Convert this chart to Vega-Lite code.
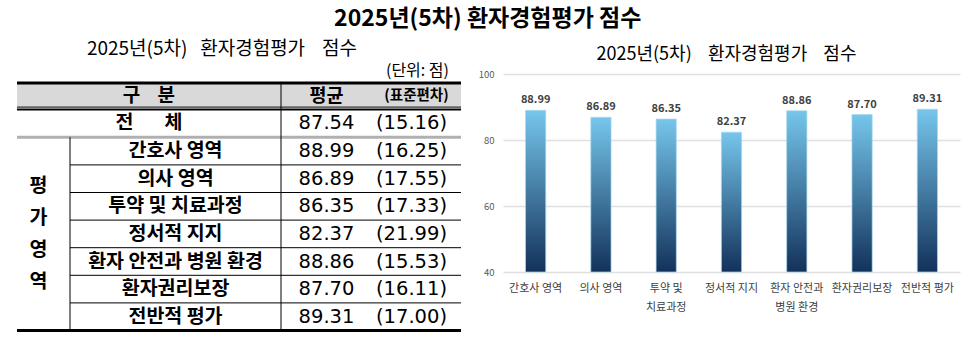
{
  "$schema": "https://vega.github.io/schema/vega-lite/v6.json",
  "background": "white",
  "padding": {"left": 15, "top": 8, "right": 5, "bottom": 5},
  "title": {"text": "2025년(5차) 환자경험평가 점수", "font": "Noto Sans CJK KR", "fontSize": 23, "fontWeight": "bold", "color": "#000000", "anchor": "middle", "offset": 9},
  "config": {"view": {"stroke": null}, "font": "Noto Sans CJK KR"},
  "datasets": {
    "items": [
      {"구분": "전체", "순서": 1, "평균": 87.54, "표준편차": 15.16},
      {"구분": "간호사 영역", "순서": 2, "평균": 88.99, "표준편차": 16.25},
      {"구분": "의사 영역", "순서": 3, "평균": 86.89, "표준편차": 17.55},
      {"구분": "투약 및 치료과정", "순서": 4, "평균": 86.35, "표준편차": 17.33},
      {"구분": "정서적 지지", "순서": 5, "평균": 82.37, "표준편차": 21.99},
      {"구분": "환자 안전과 병원 환경", "순서": 6, "평균": 88.86, "표준편차": 15.53},
      {"구분": "환자권리보장", "순서": 7, "평균": 87.70, "표준편차": 16.11},
      {"구분": "전반적 평가", "순서": 8, "평균": 89.31, "표준편차": 17.00}
    ]
  },
  "bounds": "flush",
  "spacing": 42,
  "hconcat": [
    {
      "width": 444,
      "height": 258,
      "title": {"text": "2025년(5차)\u00a0\u00a0\u00a0환자경험평가\u00a0\u00a0\u00a0\u00a0점수", "font": "Noto Sans CJK KR", "fontSize": 19, "fontWeight": "normal", "color": "#000000", "anchor": "middle", "dx": -17, "offset": 4},
      "layer": [
        {
          "data": {"values": [{}]},
          "mark": {"type": "rect", "fill": "#D9D9D9"},
          "encoding": {
            "x": {"datum": 0, "type": "quantitative", "scale": {"domain": [0, 1, 2, 3, 4], "range": [0, 53, 264, 355, 444], "nice": false, "zero": false}, "axis": null},
            "x2": {"datum": 4},
            "y": {"datum": -0.5, "type": "quantitative", "scale": {"domain": [-1, -0.5, 0.5, 1.5, 8.5], "range": [-3, 9, 35.5, 63.3, 256.5], "nice": false, "zero": false}, "axis": null},
            "y2": {"datum": 0.41}
          }
        },
        {
          "data": {"values": [{"경계": -0.5}, {"경계": 8.5}]},
          "mark": {"type": "rule", "color": "#000000", "strokeWidth": 3},
          "encoding": {
            "x": {"datum": 0, "type": "quantitative", "axis": null},
            "x2": {"datum": 4},
            "y": {"field": "경계", "type": "quantitative", "axis": null}
          }
        },
        {
          "data": {"values": [{"경계": 0.5}]},
          "mark": {"type": "rule", "color": "#000000", "strokeWidth": 2},
          "encoding": {
            "x": {"datum": 0, "type": "quantitative", "axis": null},
            "x2": {"datum": 4},
            "y": {"field": "경계", "type": "quantitative", "axis": null}
          }
        },
        {
          "data": {"values": [{"경계": 0.41}]},
          "mark": {"type": "rule", "color": "#000000", "strokeWidth": 1},
          "encoding": {
            "x": {"datum": 0, "type": "quantitative", "axis": null},
            "x2": {"datum": 4},
            "y": {"field": "경계", "type": "quantitative", "axis": null}
          }
        },
        {
          "data": {"values": [{"경계": 1.5}]},
          "mark": {"type": "rule", "color": "#B0B0B0", "strokeWidth": 3},
          "encoding": {
            "x": {"datum": 0, "type": "quantitative", "axis": null},
            "x2": {"datum": 4},
            "y": {"field": "경계", "type": "quantitative", "axis": null}
          }
        },
        {
          "data": {"values": [{"경계": 2.5}, {"경계": 3.5}, {"경계": 4.5}, {"경계": 5.5}, {"경계": 6.5}, {"경계": 7.5}]},
          "mark": {"type": "rule", "color": "#000000", "strokeWidth": 1},
          "encoding": {
            "x": {"datum": 1, "type": "quantitative", "axis": null},
            "x2": {"datum": 4},
            "y": {"field": "경계", "type": "quantitative", "axis": null}
          }
        },
        {
          "data": {"values": [{"열": 1, "위": 1.5, "아래": 8.5}, {"열": 2, "위": -0.5, "아래": 8.5}]},
          "mark": {"type": "rule", "color": "#000000", "strokeWidth": 1},
          "encoding": {
            "x": {"field": "열", "type": "quantitative", "axis": null},
            "y": {"field": "위", "type": "quantitative", "axis": null},
            "y2": {"field": "아래"}
          }
        },
        {
          "data": {"values": [{}]},
          "mark": {"type": "text", "text": "(단위: 점)", "align": "right", "dx": -12, "fontSize": 16, "font": "Noto Sans CJK KR", "color": "#000000"},
          "encoding": {
            "x": {"datum": 4, "type": "quantitative", "axis": null},
            "y": {"datum": -1, "type": "quantitative", "axis": null}
          }
        },
        {
          "data": {"values": [{}]},
          "mark": {"type": "text", "text": "구\u00a0\u00a0\u00a0\u00a0분", "fontSize": 19, "fontWeight": "bold", "font": "Noto Sans CJK KR", "color": "#000000"},
          "encoding": {
            "x": {"datum": 1.374, "type": "quantitative", "axis": null},
            "y": {"datum": 0, "type": "quantitative", "axis": null}
          }
        },
        {
          "data": {"values": [{}]},
          "mark": {"type": "text", "text": "평균", "fontSize": 18.5, "fontWeight": "bold", "font": "Noto Sans CJK KR", "color": "#000000"},
          "encoding": {
            "x": {"datum": 2.5, "type": "quantitative", "axis": null},
            "y": {"datum": 0, "type": "quantitative", "axis": null}
          }
        },
        {
          "data": {"values": [{}]},
          "mark": {"type": "text", "text": "(표준편차)", "fontSize": 14.5, "fontWeight": "bold", "font": "Noto Sans CJK KR", "color": "#000000"},
          "encoding": {
            "x": {"datum": 3.5, "type": "quantitative", "axis": null},
            "y": {"datum": 0, "type": "quantitative", "axis": null}
          }
        },
        {
          "data": {"values": [{}]},
          "mark": {"type": "text", "text": "전\u00a0\u00a0\u00a0\u00a0\u00a0\u00a0\u00a0체", "fontSize": 19.5, "fontWeight": "bold", "font": "Noto Sans CJK KR", "color": "#000000"},
          "encoding": {
            "x": {"datum": 1.374, "type": "quantitative", "axis": null},
            "y": {"datum": 1, "type": "quantitative", "axis": null}
          }
        },
        {
          "data": {"values": [{}]},
          "mark": {"type": "text", "text": "평\n가\n영\n역", "lineBreak": "\n", "lineHeight": 32, "dx": -5, "dy": -48, "fontSize": 19.5, "fontWeight": "bold", "font": "Noto Sans CJK KR", "color": "#000000"},
          "encoding": {
            "x": {"datum": 0.5, "type": "quantitative", "axis": null},
            "y": {"datum": 5, "type": "quantitative", "axis": null}
          }
        },
        {
          "data": {"name": "items"},
          "transform": [{"filter": "datum.순서 >= 2"}],
          "mark": {"type": "text", "fontSize": 19.5, "fontWeight": "bold", "font": "Noto Sans CJK KR", "color": "#000000"},
          "encoding": {
            "x": {"datum": 1.5, "type": "quantitative", "axis": null},
            "y": {"field": "순서", "type": "quantitative", "axis": null},
            "text": {"field": "구분", "type": "nominal"}
          }
        },
        {
          "data": {"name": "items"},
          "mark": {"type": "text", "fontSize": 19.5, "font": "DejaVu Sans", "color": "#000000"},
          "encoding": {
            "x": {"datum": 2.5, "type": "quantitative", "axis": null},
            "y": {"field": "순서", "type": "quantitative", "axis": null},
            "text": {"field": "평균", "type": "quantitative", "format": ".2f"}
          }
        },
        {
          "data": {"name": "items"},
          "transform": [{"calculate": "'(' + format(datum.표준편차, '.2f') + ')'", "as": "표시"}],
          "mark": {"type": "text", "fontSize": 19.5, "font": "DejaVu Sans", "color": "#000000", "dx": -5},
          "encoding": {
            "x": {"datum": 3.5, "type": "quantitative", "axis": null},
            "y": {"field": "순서", "type": "quantitative", "axis": null},
            "text": {"field": "표시", "type": "nominal"}
          }
        }
      ]
    },
    {
      "width": 457,
      "height": 198,
      "title": {"text": "2025년(5차)\u00a0\u00a0\u00a0\u00a0환자경험평가\u00a0\u00a0\u00a0\u00a0점수", "font": "Noto Sans CJK KR", "fontSize": 18, "fontWeight": "normal", "color": "#000000", "anchor": "middle", "dx": -5, "offset": 5},
      "data": {"name": "items"},
      "transform": [{"filter": "datum.순서 >= 2"}],
      "encoding": {
        "x": {
          "field": "구분", "type": "nominal", "sort": null,
          "scale": {"paddingInner": 0.69, "paddingOuter": 0.345},
          "axis": {
            "title": null, "labelAngle": 0, "domain": false, "ticks": false, "labelPadding": 10,
            "labelFont": "Noto Sans CJK KR", "labelFontSize": 11, "labelColor": "#404040", "labelLineHeight": 19,
            "labelExpr": "datum.label == '투약 및 치료과정' ? ['투약 및', '치료과정'] : datum.label == '환자 안전과 병원 환경' ? ['환자 안전과', '병원 환경'] : datum.label"
          }
        }
      },
      "layer": [
        {
          "mark": {
            "type": "bar",
            "color": {"gradient": "linear", "x1": 0, "y1": 0, "x2": 0, "y2": 1, "stops": [{"offset": 0, "color": "#76C6EC"}, {"offset": 1, "color": "#12315A"}]},
            "stroke": "#A8D8F0", "strokeWidth": 1, "strokeOpacity": 0.7
          },
          "encoding": {
            "y": {
              "field": "평균", "type": "quantitative",
              "scale": {"domain": [40, 100], "zero": false, "nice": false},
              "axis": {"title": null, "values": [40, 60, 80, 100], "domain": false, "ticks": false, "labelPadding": 9, "labelFont": "Noto Sans CJK KR", "labelFontSize": 9.5, "labelColor": "#595959", "gridColor": "#E0E0E0", "gridWidth": 1.5}
            },
            "y2": {"datum": 40}
          }
        },
        {
          "mark": {"type": "text", "baseline": "bottom", "dy": -5, "fontSize": 11, "fontWeight": "bold", "font": "Noto Sans CJK KR", "color": "#404040"},
          "encoding": {
            "y": {"field": "평균", "type": "quantitative"},
            "text": {"field": "평균", "type": "quantitative", "format": ".2f"}
          }
        }
      ]
    }
  ]
}
